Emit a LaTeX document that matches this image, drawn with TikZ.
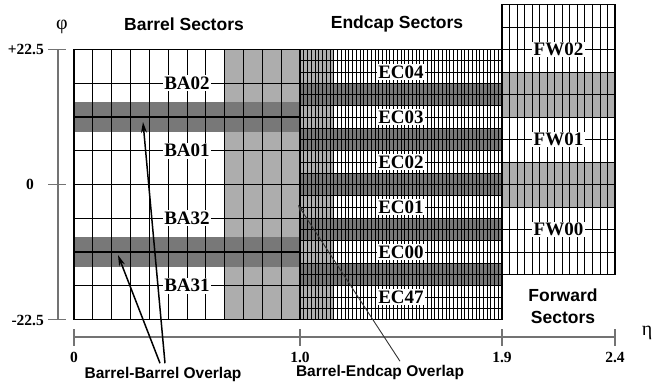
\documentclass[tikz,border=0pt]{standalone}
\usepackage{fontspec}
\setmainfont{Liberation Serif}
\setsansfont{Liberation Sans}
\usetikzlibrary{arrows.meta}
\definecolor{lg}{gray}{0.68}
\definecolor{dg}{gray}{0.47}
\definecolor{axisgray}{gray}{0.45}
\begin{document}
\begin{tikzpicture}[x=1pt,y=-1pt,
  seclabel/.style={font=\fontsize{19}{19}\selectfont\bfseries, fill=white, inner sep=1.5pt},
  titletext/.style={font=\fontsize{17.5}{22}\selectfont\sffamily\bfseries, align=center},
  ticklabel/.style={font=\fontsize{15.5}{16}\selectfont\bfseries},
  notetext/.style={font=\fontsize{15.5}{16}\selectfont\sffamily\bfseries},
  greek/.style={font=\fontsize{20}{20}\selectfont},
  axisline/.style={draw=axisgray, line width=1.2pt},
  gridline/.style={draw=black, line width=0.75pt},
  fineline/.style={draw=black, line width=0.6pt},
  bound/.style={draw=black, line width=1.8pt},
  bigarrow/.style={draw=black, line width=1.5pt, -{Stealth[length=11pt,width=6pt]}},
  smallarrow/.style={draw=black!80, line width=0.9pt, -{Stealth[length=8pt,width=5pt]}}
]
\useasboundingbox (0,0) rectangle (653,387);

% ---------- fills ----------
\fill[lg] (225,49.5) rectangle (334,319.5);
\fill[dg] (74,102) rectangle (300,132);
\fill[dg] (74,237) rectangle (300,267);
\foreach \b in {94.5,139.5,184.5,229.5,274.5}
  \fill[dg] (300,\b-11.25) rectangle (502,\b+11.25);
\fill[lg] (502,72) rectangle (615,117);
\fill[lg] (502,162) rectangle (615,207);

% ---------- barrel grid ----------
\foreach \i in {1,...,11}
  \draw[gridline] ({74+\i*226/12},49.5) -- ({74+\i*226/12},319.5);
\foreach \y in {83.25,150.75,218.25,285.75}
  \draw[gridline] (74,\y) -- (300,\y);

% ---------- endcap grid ----------
\foreach \i in {1,...,53}
  \draw[fineline] ({300+\i*202/54},49.5) -- ({300+\i*202/54},319.5);
\foreach \j in {1,...,23}
  \draw[fineline] (300,{49.5+\j*11.25}) -- (502,{49.5+\j*11.25});

% ---------- forward grid ----------
\foreach \i in {1,...,14}
  \draw[gridline] ({502+\i*113/15},4.5) -- ({502+\i*113/15},274.5);
\foreach \j in {1,...,11}
  \draw[gridline] (502,{4.5+\j*22.5}) -- (615,{4.5+\j*22.5});

% ---------- sector boundaries ----------
\draw[bound] (74,49.5) rectangle (502,319.5);
\draw[bound] (300,49.5) -- (300,319.5);
\foreach \y in {117,184.5,252}
  \draw[bound] (74,\y) -- (300,\y);
\foreach \y in {94.5,139.5,184.5,229.5,274.5}
  \draw[bound] (300,\y) -- (502,\y);
\draw[bound] (502,4.5) rectangle (615,274.5);
\draw[bound] (502,94.5) -- (615,94.5);
\draw[bound] (502,184.5) -- (615,184.5);

% ---------- sector labels ----------
\node[seclabel] (ba02) at (187,83.25) {BA02};
\node[seclabel] (ba01) at (187,150.75) {BA01};
\node[seclabel] (ba32) at (187,218.25) {BA32};
\node[seclabel] (ba31) at (187,285.75) {BA31};
\node[seclabel] (ec04) at (401,72) {EC04};
\node[seclabel] (ec03) at (401,117) {EC03};
\node[seclabel] (ec02) at (401,162) {EC02};
\node[seclabel] (ec01) at (401,207) {EC01};
\node[seclabel] (ec00) at (401,252) {EC00};
\node[seclabel] (ec47) at (401,297) {EC47};
\node[seclabel] (fw02) at (558.5,49.5) {FW02};
\node[seclabel] (fw01) at (558.5,139.5) {FW01};
\node[seclabel] (fw00) at (558.5,229.5) {FW00};

% ---------- titles ----------
\node[titletext] (tbarrel) at (184,24) {Barrel Sectors};
\node[titletext] (tendcap) at (397,24) {Endcap Sectors};
\node[titletext] (tforward) at (563,306) {Forward\\Sectors};

% ---------- phi axis ----------
\draw[axisline] (58,49.5) -- (58,319.5);
\foreach \y in {49.5,184.5,319.5}
  \draw[axisline] (48,\y) -- (66,\y);
\node[greek] (phi) at (62,27) {φ};
\node[ticklabel, anchor=east, inner sep=0pt] (p225) at (44,49.5) {+22.5};
\node[ticklabel] (p0) at (30,184.5) {0};
\node[ticklabel, anchor=east, inner sep=0pt] (m225) at (44,320) {-22.5};

% ---------- eta axis ----------
\draw[axisline] (74,337) -- (615,337);
\foreach \x in {74,300,502,615}
  \draw[axisline] (\x,329) -- (\x,346);
\node[greek] (eta) at (647,333) {η};
\node[ticklabel] (e0) at (74,357) {0};
\node[ticklabel] (e10) at (300,357) {1.0};
\node[ticklabel] (e19) at (502,357) {1.9};
\node[ticklabel] (e24) at (615,357) {2.4};

% ---------- overlap notes ----------
\node[notetext] (bbo) at (163,374) {Barrel-Barrel Overlap};
\node[notetext] (beo) at (380,372) {Barrel-Endcap Overlap};
\coordinate (bbt1) at (143,122);
\coordinate (bbt2) at (118,255);
\coordinate (bet) at (298,205);
\draw[bigarrow] ([xshift=2pt]bbo.north) -- (bbt1);
\draw[bigarrow] ([xshift=-3pt]bbo.north) -- (bbt2);
\draw[smallarrow] ([xshift=20pt]beo.north) -- (bet);
\end{tikzpicture}
\end{document}
